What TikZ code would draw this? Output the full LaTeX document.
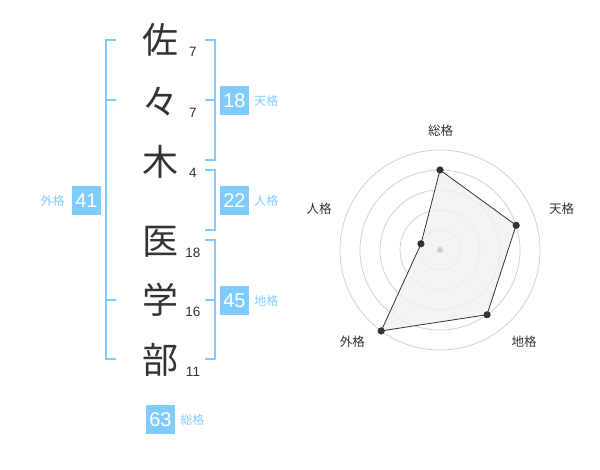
\documentclass[tikz,border=0pt]{standalone}
\usepackage{fontspec}
\setmainfont{Liberation Sans}
\newfontfamily\jpfont{Noto Sans CJK JP}
\usetikzlibrary{positioning}
\usepackage{xcolor}
\definecolor{kblue}{HTML}{80CCFF}
\definecolor{kgray}{HTML}{333333}
\definecolor{kring}{HTML}{CCCCCC}
\definecolor{kfill}{HTML}{F0F0F0}
\tikzstyle{l2}=[line width=2]
\tikzstyle{brk}=[l2, draw=kblue]
\tikzstyle{kanji}=[text=kgray, inner sep=0pt, font=\jpfont\fontsize{36}{36}\selectfont]
\tikzstyle{strk}=[text=kgray, inner sep=0pt, font=\fontsize{13.5}{13.5}\selectfont]
\tikzstyle{score}=[fill=kblue, text=white, minimum size=29pt, inner sep=0pt, font=\fontsize{20}{20}\selectfont]
\tikzstyle{kaku}=[text=kblue, inner sep=0pt, font=\jpfont\fontsize{12}{12}\selectfont]
\tikzstyle{axl}=[text=kgray, inner sep=0pt, font=\jpfont\fontsize{12.5}{12.5}\selectfont]
\tikzstyle{pt}=[circle, fill=kgray, minimum size=7pt, inner sep=0pt]

\begin{document}
\begin{tikzpicture}[x=1pt, y=-1pt]
    \useasboundingbox (0,0) rectangle (600,470);

    % name
    \node[kanji] at (160,40) (c1) {佐};
    \node[kanji] at (160,102) (c2) {々};
    \node[kanji] at (160,162) (c3) {木};
    \node[kanji] at (160,242) (c4) {医};
    \node[kanji] at (160,300) (c5) {学};
    \node[kanji] at (160,360) (c6) {部};
    \node[strk] at (193,52) (s1) {7};
    \node[strk] at (193,113) (s2) {7};
    \node[strk] at (193,173) (s3) {4};
    \node[strk] at (193,253) (s4) {18};
    \node[strk] at (193,312) (s5) {16};
    \node[strk] at (193,372) (s6) {11};

    % brackets
    \draw[brk] (116,40) -- (106,40) -- (106,359) -- (116,359);
    \draw[brk] (106,100) -- (116,100);
    \draw[brk] (106,300) -- (116,300);
    \draw[brk] (205,40) -- (215,40) -- (215,160) -- (205,160);
    \draw[brk] (205,100) -- (215,100);
    \draw[brk] (205,170) -- (215,170) -- (215,230) -- (205,230);
    \draw[brk] (205,240) -- (215,240) -- (215,359) -- (205,359);
    \draw[brk] (205,300) -- (215,300);

    % scores
    \node[score] at (234.5,100.5) (ten) {18};
    \node[kaku, right=5pt of ten] {天格};
    \node[score] at (234.5,200.5) (jin) {22};
    \node[kaku, right=5pt of jin] {人格};
    \node[score] at (234.5,300.5) (chi) {45};
    \node[kaku, right=5pt of chi] {地格};
    \node[score] at (86.5,200.5) (gai) {41};
    \node[kaku, left=7pt of gai] {外格};
    \node[score] at (160.5,419.5) (sou) {63};
    \node[kaku, right=5pt of sou] {総格};

    % radar
    \begin{scope}
        \draw[kring, line width=0.7] (440,250) circle (20) (440,250) circle (40) (440,250) circle (60)
            (440,250) circle (80) (440,250) circle (100);
        \node[pt] at (440,170) (r1) {};
        \node[pt] at (516.1,225.3) (r2) {};
        \node[pt] at (487.0,314.7) (r3) {};
        \node[pt] at (381.2,330.9) (r4) {};
        \node[pt] at (421.0,243.8) (r5) {};
        \fill[kfill, fill opacity=0.8] (r1.center) -- (r2.center) -- (r3.center) -- (r4.center) -- (r5.center) -- cycle;
        \draw[kgray, line width=0.8] (r1.center) -- (r2.center) -- (r3.center) -- (r4.center) -- (r5.center) -- cycle;
        \node[pt] at (r1) {}; \node[pt] at (r2) {}; \node[pt] at (r3) {};
        \node[pt] at (r4) {}; \node[pt] at (r5) {};
        \node[circle, fill=kring, minimum size=6pt, inner sep=0pt] at (440,250) (r0) {};
        \node[axl] at (440.7,130.7) {総格};
        \node[axl] at (561.7,208.3) {天格};
        \node[axl] at (524,342) {地格};
        \node[axl] at (352.3,342) {外格};
        \node[axl] at (319,208.3) {人格};
    \end{scope}
\end{tikzpicture}
\end{document}
